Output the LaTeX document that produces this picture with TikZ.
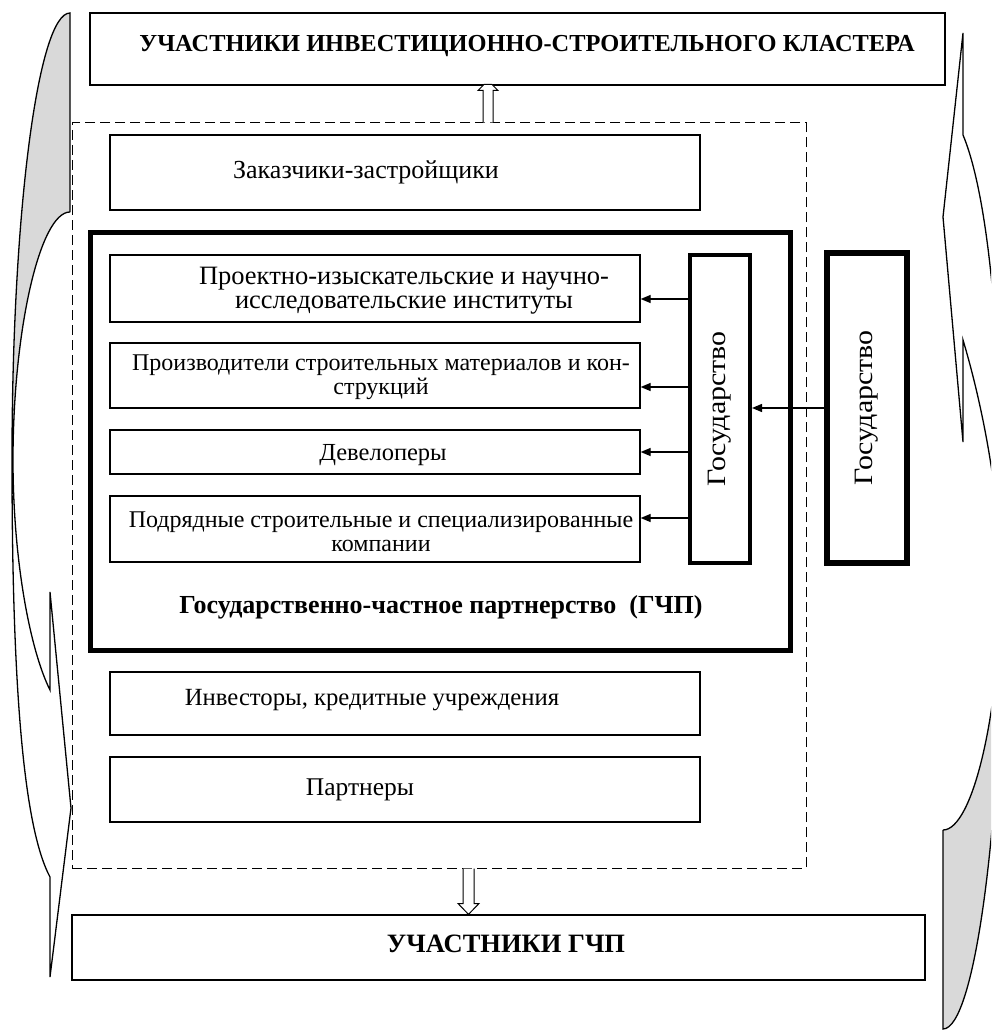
\documentclass[tikz,border=0pt]{standalone}
\usepackage{fontspec}
\setmainfont{Liberation Serif}
\newfontfamily\widefont[FakeStretch=1.13]{Liberation Serif}
\usepackage{graphicx}
\usetikzlibrary{arrows.meta,calc}
\definecolor{backgrey}{HTML}{D9D9D9}
\newcommand{\fs}[1]{\fontsize{#1}{24}\selectfont}
\begin{document}
\begin{tikzpicture}[x=1pt,y=-1pt,
  lbl/.style={inner sep=0pt, align=center},
  box/.style={draw, line width=1.3pt, inner sep=0pt},
  thickbox/.style={draw, line width=5pt, inner sep=0pt},
  arr/.style={-{Triangle[length=10pt,width=8pt]}, line width=1.3pt},
  blk/.style={draw, fill=white, line width=1pt, line join=miter},
  outl/.style={draw, line width=1.3pt, line join=miter}]
\useasboundingbox (0,0) rectangle (991,1030);
\begin{scope}
\clip (0,0) rectangle (991,1030);
% left curved arrow
\fill[backgrey] (70,13) .. controls (38,13) and (12,213) .. (12,460) -- (13,460) .. controls (13,330) and (40,212) .. (70,212) -- cycle;
\draw[outl] (70,212) -- (70,13) .. controls (38,13) and (12,213) .. (12,460) .. controls (12,700) and (25,830) .. (50,877) -- (50,977) -- (71,808) -- (50,592) -- (50,690) .. controls (30,650) and (13,560) .. (13,460) .. controls (13,330) and (40,212) .. (70,212);
% right curved arrow
\fill[backgrey] (943,830) -- (943,1029) .. controls (975,1029) and (1003,820) .. (1003,565) -- (1001,575) .. controls (1001,710) and (973,830) .. (943,830) -- cycle;
\draw[outl] (943,830) -- (943,1029) .. controls (975,1029) and (1003,820) .. (1003,565) .. controls (1003,325) and (986,190) .. (963,135) -- (963,33) -- (943,217) -- (963,442) -- (963,340) .. controls (978,390) and (999,480) .. (1001,575) .. controls (1001,710) and (973,830) .. (943,830);
\end{scope}

% dashed frame
\node[draw, dash pattern=on 10pt off 5pt, line width=1pt, minimum width=734pt, minimum height=745pt, inner sep=0pt] (dash) at (439,495.5) {};

% top and bottom boxes
\node[box, minimum width=855pt, minimum height=72pt] (top) at (517.5,49) {};
\node[lbl, font=\fs{24.4}\bfseries] (topt) at (527,46) {УЧАСТНИКИ ИНВЕСТИЦИОННО-СТРОИТЕЛЬНОГО КЛАСТЕРА};
\node[box, minimum width=853pt, minimum height=65pt] (bot) at (498.5,947.5) {};
\node[lbl, font=\fs{26.5}\bfseries] (bott) at (506,944) {УЧАСТНИКИ ГЧП};

\node[box, minimum width=590pt, minimum height=75pt] (zak) at (405,172.5) {};
\node[lbl, font=\fs{26}] (zakt) at (366,172) {Заказчики-застройщики};

% PPP frame
\node[thickbox, minimum width=700pt, minimum height=418pt] (gchp) at (440,441) {};
\node[lbl, font=\fs{26}\bfseries] (gchpl) at (441,607) {Государственно-частное партнерство\ \ (ГЧП)};

\node[box, minimum width=530pt, minimum height=67pt] (proekt) at (375,288.5) {};
\node[lbl, font=\fs{26.5}] (proektt) at (404,291) {Проектно-изыскательские и научно-\\исследовательские институты};
\node[box, minimum width=530pt, minimum height=65pt] (proizv) at (375,375.5) {};
\node[lbl, font=\fs{24}] (proizvt) at (381,377) {Производители строительных материалов и кон-\\струкций};
\node[box, minimum width=530pt, minimum height=44pt] (devel) at (375,452) {};
\node[lbl, font=\fs{24.5}] (develt) at (383,455) {Девелоперы};
\node[box, minimum width=530pt, minimum height=66pt] (podr) at (375,529) {};
\node[lbl, font=\fs{24}] (podrt) at (381,532) {Подрядные строительные и специализированные\\компании};

\node[draw, line width=4pt, inner sep=0pt, minimum width=60pt, minimum height=308pt, font=\widefont\fs{26.5}] (gos1) at (720,409) {\rotatebox{90}{Государство}};
\node[draw, line width=5.5pt, inner sep=0pt, minimum width=80pt, minimum height=310pt, font=\widefont\fs{26.5}] (gos2) at (867,408) {\rotatebox{90}{Государство}};

\node[box, minimum width=590pt, minimum height=63pt] (inv) at (405,703.5) {};
\node[lbl, font=\fs{24.7}] (invt) at (372,700) {Инвесторы, кредитные учреждения};
\node[box, minimum width=590pt, minimum height=65pt] (part) at (405,789.5) {};
\node[lbl, font=\fs{25.5}] (partt) at (360,790) {Партнеры};

% arrows from state
\coordinate (a1) at ([yshift=-10.5pt]proekt.east);
\coordinate (a2) at ([yshift=-11.5pt]proizv.east);
\coordinate (a3) at (devel.east);
\coordinate (a4) at ([yshift=11pt]podr.east);
\draw[arr] (gos1.west |- a1) -- (a1);
\draw[arr] (gos1.west |- a2) -- (a2);
\draw[arr] (gos1.west |- a3) -- (a3);
\draw[arr] (gos1.west |- a4) -- (a4);
\draw[arr] (gos2.west) -- (gos1.east |- gos2.west);

% block arrows
\coordinate (ua) at (dash.north -| 488,0);
\draw[blk] ($(ua)+(-5,0)$) -- ($(ua)+(-5,-32)$) -- ($(ua)+(-10,-32)$) -- ($(ua)+(-4,-38)$) -- ($(ua)+(4,-38)$) -- ($(ua)+(10,-32)$) -- ($(ua)+(5,-32)$) -- ($(ua)+(5,0)$);
\coordinate (da) at (dash.south -| 468.5,0);
\draw[blk] ($(da)+(-5.5,0)$) -- ($(da)+(-5.5,35)$) -- ($(da)+(-10.5,35)$) -- (bot.north -| da) -- ($(da)+(10.5,35)$) -- ($(da)+(5.5,35)$) -- ($(da)+(5.5,0)$);
\end{tikzpicture}
\end{document}
